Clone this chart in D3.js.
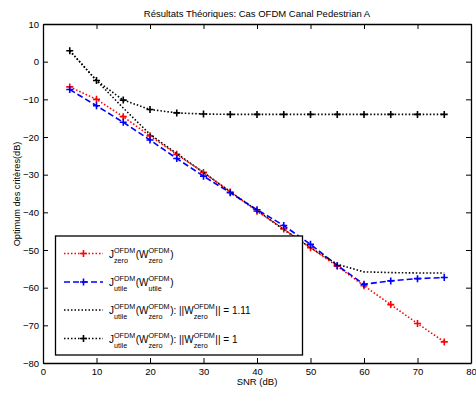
<!DOCTYPE html>
<html>
<head>
<meta charset="utf-8">
<script src="https://d3js.org/d3.v7.min.js"></script>
<style>
  body { margin: 0; background: #fff; }
  svg text { font-family: "Liberation Sans", Arial, Helvetica, sans-serif; fill: #000; }
</style>
</head>
<body>
<div id="main-container"></div>
<script>
var width = 476,
    height = 394

var margin = {top: 24, right: 5, bottom: 31, left: 43}

// data
var snr = [5, 10, 15, 20, 25, 30, 35, 40, 45, 50, 55, 60, 65, 70, 75]
var jZeroZero = [-6.7, -10, -14.6, -19.7, -24.6, -29.4, -34.6, -39.7, -44.4, -49.4, -54.3, -59.5, -64.5, -69.5, -74.4]
var jUtileUtile = [-7.4, -11.7, -16.1, -20.8, -25.7, -30.4, -34.8, -39.3, -43.5, -48.5, -54.1, -59.1, -58.2, -57.6, -57.3]
var jUtileNorm111 = [2.9, -5, -12.3, -19.3, -24.4, -29.4, -34.5, -39.5, -44.6, -49.4, -53.8, -55.8, -56, -56.1, -56.1]
var jUtileNorm1 = [2.9, -5, -10.2, -12.7, -13.6, -13.9, -14, -14, -14, -14, -14, -14, -14, -14, -14]

var xTicks = [0, 10, 20, 30, 40, 50, 60, 70, 80]
var yTicks = [-80, -70, -60, -50, -40, -30, -20, -10, 0, 10]

var series = [
  {values: jZeroZero, color: "red", dash: "1.5,2", marker: true,
   label: [{t: "J"}, {sup: "OFDM", sub: "zero"}, {t: "(W"}, {sup: "OFDM", sub: "zero"}, {t: ")"}]},
  {values: jUtileUtile, color: "blue", dash: "6,3", marker: true,
   label: [{t: "J"}, {sup: "OFDM", sub: "utile"}, {t: "(W"}, {sup: "OFDM", sub: "utile"}, {t: ")"}]},
  {values: jUtileNorm111, color: "black", dash: "1.5,2", marker: false,
   label: [{t: "J"}, {sup: "OFDM", sub: "utile"}, {t: "(W"}, {sup: "OFDM", sub: "zero"}, {t: "): ||W"}, {sup: "OFDM", sub: "zero"}, {t: "|| = 1.11"}]},
  {values: jUtileNorm1, color: "black", dash: "1.5,2", marker: true,
   label: [{t: "J"}, {sup: "OFDM", sub: "utile"}, {t: "(W"}, {sup: "OFDM", sub: "zero"}, {t: "): ||W"}, {sup: "OFDM", sub: "zero"}, {t: "|| = 1"}]}
]

var svg = d3.select("#main-container").append("svg")
  .attr("width", width)
  .attr("height", height)

var x = d3.scaleLinear().domain([0, 80]).range([margin.left, width - margin.right])
var y = d3.scaleLinear().domain([-80, 10]).range([height - margin.bottom, margin.top])

var plot = svg.append("g")

// lines
var line = d3.line()
  .x(function(d, i){ return x(snr[i]) })
  .y(function(d){ return y(d) })

series.forEach(function(s){
  plot.append("path")
    .attr("d", line(s.values))
    .attr("fill", "none")
    .attr("stroke", s.color)
    .attr("stroke-width", 1.6)
    .attr("stroke-dasharray", s.dash)
  if (s.marker) {
    plot.selectAll(null)
      .data(s.values)
      .enter()
      .append("path")
        .attr("d", function(d, i){
          var cx = x(snr[i]), cy = y(d)
          return "M" + (cx - 3.5) + "," + cy + "H" + (cx + 3.5) + "M" + cx + "," + (cy - 3.5) + "V" + (cy + 3.5)
        })
        .attr("stroke", s.color)
        .attr("stroke-width", 1.6)
  }
})

// axes, ticks inside like matlab
svg.append("g").attr("transform", "translate(0," + y(-80) + ")")
  .call(d3.axisBottom(x).tickValues(xTicks).tickSizeInner(-5).tickSizeOuter(0).tickPadding(5))
svg.append("g").attr("transform", "translate(0," + y(10) + ")")
  .call(d3.axisTop(x).tickValues(xTicks).tickSizeInner(-5).tickSizeOuter(0).tickFormat(""))
svg.append("g").attr("transform", "translate(" + x(0) + ",0)")
  .call(d3.axisLeft(y).tickValues(yTicks).tickSizeInner(-5).tickSizeOuter(0).tickPadding(4))
svg.append("g").attr("transform", "translate(" + x(80) + ",0)")
  .call(d3.axisRight(y).tickValues(yTicks).tickSizeInner(-5).tickSizeOuter(0).tickFormat(""))

svg.selectAll(".domain").attr("stroke", "#000").attr("stroke-width", 1.3)
svg.selectAll(".tick line").attr("stroke", "#000")
svg.selectAll(".tick text").attr("font-size", 9.5).attr("font-family", "Liberation Sans, Arial, sans-serif").attr("fill", "#222")

// title and labels
svg.append("text")
  .attr("x", (x(0) + x(80)) / 2)
  .attr("y", 17)
  .attr("text-anchor", "middle")
  .attr("font-size", 9.5)
  .attr("fill", "#222")
  .text("Résultats Théoriques: Cas OFDM Canal Pedestrian A")

svg.append("text")
  .attr("x", (x(0) + x(80)) / 2)
  .attr("y", 385)
  .attr("text-anchor", "middle")
  .attr("font-size", 9.5)
  .attr("fill", "#222")
  .text("SNR (dB)")

svg.append("text")
  .attr("transform", "translate(19.5,194) rotate(-90)")
  .attr("text-anchor", "middle")
  .attr("font-size", 9.2)
  .attr("fill", "#222")
  .text("Optimum des critères(dB)")

// legend
var legX = 55.5, legY = 236, legW = 247, legH = 119
var legend = svg.append("g")
legend.append("rect")
  .attr("x", legX).attr("y", legY)
  .attr("width", legW).attr("height", legH)
  .attr("fill", "white")
  .attr("stroke", "black")
  .attr("stroke-width", 1.3)

var rowY = [253.5, 282, 310, 338.5]

function drawLabel(g, parts, x0, cy) {
  var cx = x0
  parts.forEach(function(p){
    if (p.t) {
      var t = g.append("text").attr("x", cx).attr("y", cy + 4).attr("font-size", 10).attr("fill", "#222").text(p.t)
      cx += t.node().getComputedTextLength()
    } else {
      var a = g.append("text").attr("x", cx).attr("y", cy - 1).attr("font-size", 7.2).attr("fill", "#222").text(p.sup)
      var b = g.append("text").attr("x", cx).attr("y", cy + 9).attr("font-size", 7.2).attr("fill", "#222").text(p.sub)
      cx += Math.max(a.node().getComputedTextLength(), b.node().getComputedTextLength()) + 0.5
    }
  })
}

series.forEach(function(s, i){
  var cy = rowY[i]
  legend.append("line")
    .attr("x1", 64).attr("x2", 103)
    .attr("y1", cy).attr("y2", cy)
    .attr("stroke", s.color)
    .attr("stroke-width", 1.6)
    .attr("stroke-dasharray", s.dash)
  if (s.marker) {
    legend.append("path")
      .attr("d", "M80," + cy + "H87M83.5," + (cy - 3.5) + "V" + (cy + 3.5))
      .attr("stroke", s.color)
      .attr("stroke-width", 1.6)
  }
  drawLabel(legend, s.label, 109, cy)
})
</script>
</body>
</html>
